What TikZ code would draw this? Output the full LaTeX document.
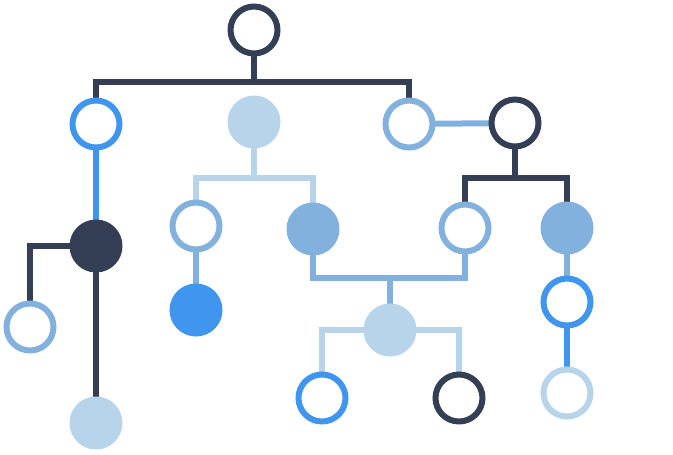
\documentclass[tikz,border=0pt]{standalone}
\usetikzlibrary{positioning}
\definecolor{dark}{HTML}{343F55}
\definecolor{bright}{HTML}{4096EE}
\definecolor{mid}{HTML}{82B1DE}
\definecolor{pale}{HTML}{B8D4EA}
\begin{document}
\begin{tikzpicture}[x=1pt,y=-1pt,line width=6pt,
  ring/.style={circle,draw=#1,fill=white,minimum size=47pt,inner sep=0pt},
  disc/.style={circle,fill=#1,minimum size=53pt,inner sep=0pt}]
  \useasboundingbox (0,0) rectangle (673,455);
  % links first
  \coordinate (topbar) at (254,82);
  \draw[dark] (254,30) -- (topbar);
  \draw[dark] (96,124) |- (409,82) -- (409,124);
  \draw[pale] (254,122) -- (254,178);
  \draw[pale] (196,226) |- (313,178) -- (313,229);
  \draw[mid] (409,124) -- (515,123);
  \draw[dark] (515,123) -- (515,178);
  \draw[dark] (465,228) |- (567,178) -- (567,228);
  \draw[bright] (96,124) -- (96,246);
  \draw[dark] (96,246) -- (96,420);
  \draw[dark] (96,246) -| (30,327);
  \draw[mid] (196,226) -- (196,310);
  \draw[mid] (313,229) |- (465,278) -- (465,228);
  \draw[mid] (390,278) -- (390,330);
  \draw[pale] (322,398) |- (459,330) -- (459,398);
  \draw[mid] (567,228) -- (567,302);
  \draw[bright] (567,302) -- (567,393);
  % nodes
  \node[ring=dark] (top) at (254,30) {};
  \node[ring=bright] (a) at (96,124) {};
  \node[disc=pale] (b) at (254,122) {};
  \node[ring=mid] (c) at (409,124) {};
  \node[ring=dark] (d) at (515,123) {};
  \node[disc=dark] (e) at (96,246) {};
  \node[ring=mid] (f) at (30,327) {};
  \node[disc=pale] (g) at (96,423) {};
  \node[ring=mid] (h) at (196,226) {};
  \node[disc=mid] (i) at (313,229) {};
  \node[disc=bright] (j) at (196,310) {};
  \node[ring=mid] (k) at (465,228) {};
  \node[disc=mid] (l) at (567,228) {};
  \node[disc=pale] (m) at (390,330) {};
  \node[ring=bright] (n) at (322,398) {};
  \node[ring=dark] (o) at (459,398) {};
  \node[ring=bright] (p) at (567,302) {};
  \node[ring=pale] (q) at (567,393) {};
\end{tikzpicture}
\end{document}
